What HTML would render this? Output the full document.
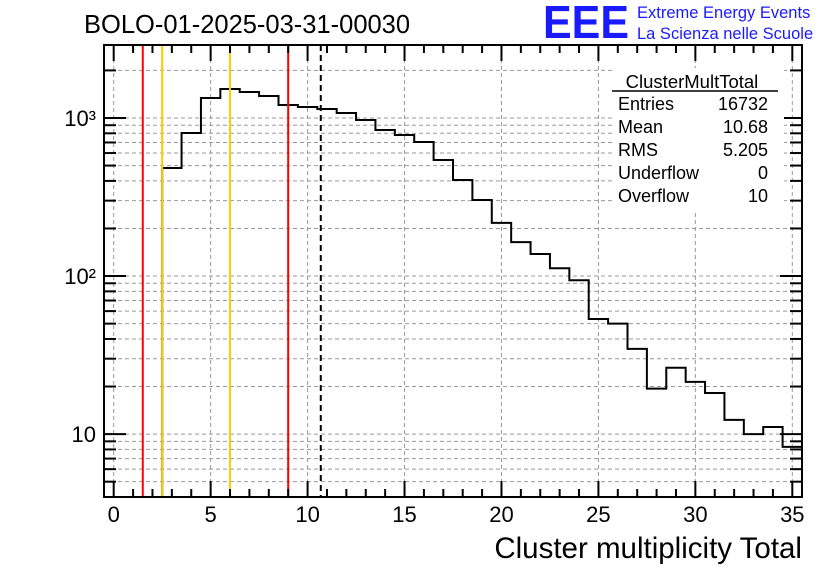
<!DOCTYPE html>
<html><head><meta charset="utf-8"><style>
body{margin:0;background:#fff;}
svg text{font-family:"Liberation Sans",sans-serif;}
</style></head><body>
<svg id="c" width="836" height="572" xmlns="http://www.w3.org/2000/svg">
<g id="grid"></g>
<g id="marks"></g>
<g id="axes"></g>
<text x="84" y="33" font-size="25.5">BOLO-01-2025-03-31-00030</text>
<text x="543" y="38" font-size="46" fill="#1a1aff" font-weight="bold" textLength="86" lengthAdjust="spacingAndGlyphs">EEE</text>
<text x="637" y="18" font-size="16.5" fill="#1a1aff">Extreme Energy Events</text>
<text x="637" y="39" font-size="16.5" fill="#1a1aff">La Scienza nelle Scuole</text>
<g font-size="18">
<rect x="612" y="68" width="172" height="142" fill="#fff"/>
<text x="692" y="88" text-anchor="middle" font-size="18.5">ClusterMultTotal</text>
<line x1="612" y1="91" x2="778" y2="91" stroke="#000" stroke-width="1.5"/>
<text x="618" y="110">Entries</text><text x="768" y="110" text-anchor="end">16732</text>
<text x="618" y="133">Mean</text><text x="768" y="133" text-anchor="end">10.68</text>
<text x="618" y="156">RMS</text><text x="768" y="156" text-anchor="end">5.205</text>
<text x="618" y="179">Underflow</text><text x="768" y="179" text-anchor="end">0</text>
<text x="618" y="202">Overflow</text><text x="768" y="202" text-anchor="end">10</text>
</g>
<text x="802" y="558" font-size="29.5" text-anchor="end">Cluster multiplicity Total</text>
</svg>
<script>
const binCenters=[3,4,5,6,7,8,9,10,11,12,13,14,15,16,17,18,19,20,21,22,23,24,25,26,27,28,29,30,31,32,33,34,35];
const binCounts=[483,803,1338,1526,1460,1378,1208,1174,1140,1076,971,839,781,705,542,405,303,217,164,138,112,94,53.5,50,34.6,19.4,26.3,21.4,18.2,12.3,10,11.1,8.3];
const xTicks=[0,5,10,15,20,25,30,35];
const yTicks=[10,100,1000];
const yTickLabels=["10","10²","10³"];
const cutLines=[{v:1.5,c:"#ff0000"},{v:2.5,c:"#ffcc00"},{v:6,c:"#ffcc00"},{v:9,c:"#ff0000"}];
const meanValue=10.68;
const NS="http://www.w3.org/2000/svg";
const L=104,R=802,T=45,B=497,x0=-0.5,x1=35.5,lyMin=Math.log10(4),lyMax=Math.log10(2896);
const X=v=>L+(v-x0)/(x1-x0)*(R-L);
const Y=v=>B-(Math.log10(v)-lyMin)/(lyMax-lyMin)*(B-T);
function mk(tag,attrs,parent){const e=document.createElementNS(NS,tag);for(const k in attrs)e.setAttribute(k,attrs[k]);document.getElementById(parent).appendChild(e);return e;}
xTicks.forEach(t=>{const e=mk('line',{x1:X(t),x2:X(t),y1:T,y2:B,stroke:'#999','stroke-dasharray':'4,3','stroke-width':1},'grid');

});
for(let d=1;d<=1000;d*=10){for(let m=1;m<10;m++){const v=d*m;if(v<4||v>2896)continue;
const e=mk('line',{x1:L,x2:R,y1:Y(v),y2:Y(v),stroke:'#999','stroke-dasharray':'4,3','stroke-width':1},'grid');

}}
let d='M'+X(binCenters[0]-0.5)+','+B;
binCenters.forEach((c,i)=>{d+=' L'+X(c-0.5)+','+Y(binCounts[i])+' L'+X(c+0.5)+','+Y(binCounts[i]);});
const h=mk('path',{d:d,fill:'none',stroke:'#000','stroke-width':2},'marks');


cutLines.forEach(c=>{const e=mk('line',{x1:X(c.v),x2:X(c.v),y1:T,y2:B,stroke:c.c,'stroke-width':2},'marks');

});
const m=mk('line',{x1:X(meanValue),x2:X(meanValue),y1:T,y2:B,stroke:'#000','stroke-width':2,'stroke-dasharray':'6,4'},'marks');


const fr=mk('rect',{x:L,y:T,width:R-L,height:B-T,fill:'none',stroke:'#000','stroke-width':2},'axes');


for(let v=0;v<=35;v++){const len=v%5==0?16:8;
mk('line',{x1:X(v),x2:X(v),y1:B,y2:B-len,stroke:'#000','stroke-width':2},'axes');
mk('line',{x1:X(v),x2:X(v),y1:T,y2:T+len,stroke:'#000','stroke-width':2},'axes');}
xTicks.forEach(t=>{const e=mk('text',{x:X(t),y:522,'font-size':22,'text-anchor':'middle'},'axes');e.textContent=t;

});
for(let dd=1;dd<=1000;dd*=10){for(let k=1;k<10;k++){const v=dd*k;if(v<4||v>2896)continue;const len=k==1?22:12;
mk('line',{x1:L,x2:L+len,y1:Y(v),y2:Y(v),stroke:'#000','stroke-width':2},'axes');
mk('line',{x1:R,x2:R-len,y1:Y(v),y2:Y(v),stroke:'#000','stroke-width':2},'axes');}}
yTicks.forEach((t,i)=>{const e=mk('text',{x:96,y:Y(t)+8,'font-size':22,'text-anchor':'end'},'axes');e.textContent=yTickLabels[i];

});
</script>
</body></html>
